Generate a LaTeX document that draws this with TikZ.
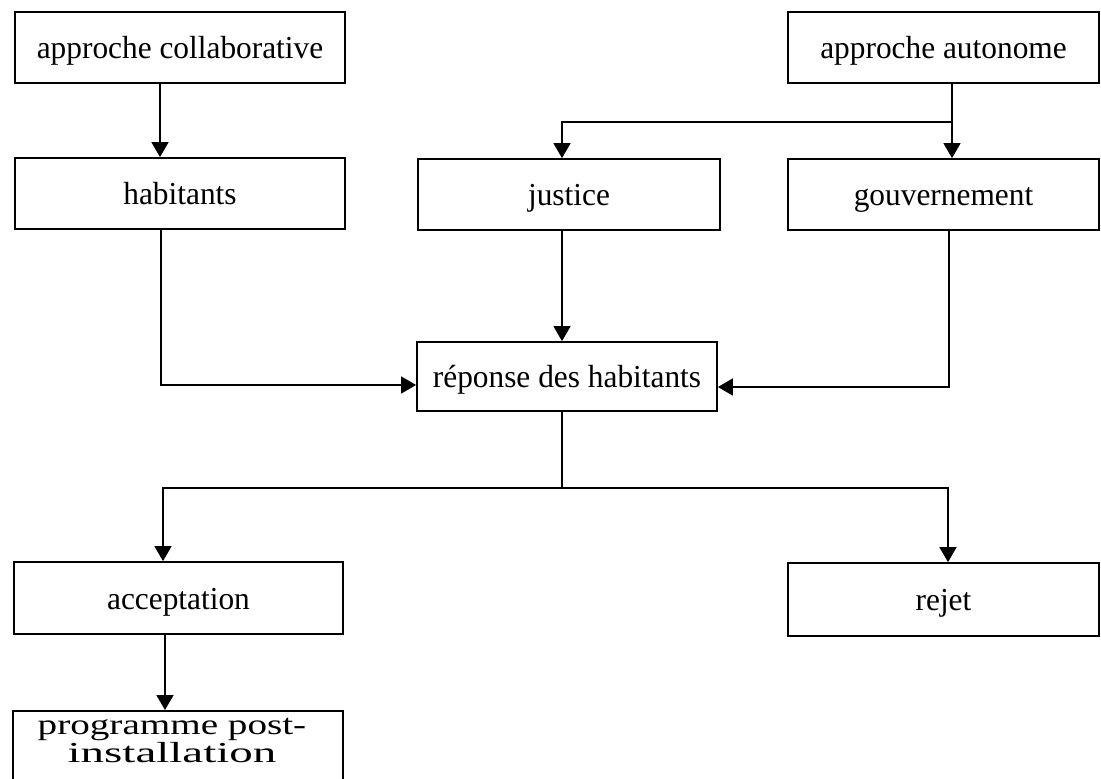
\documentclass[tikz,border=0pt]{standalone}
\usepackage{fontspec}
\setmainfont{Liberation Serif}
\newfontfamily\bxfont[FakeStretch=0.98]{Liberation Serif}
\newfontfamily\pgfontx[FakeStretch=1.35]{Liberation Serif}
\usetikzlibrary{arrows.meta}
\tikzset{
  box/.style={draw, line width=1.8pt, inner sep=0pt, fill=white,
    font=\bxfont\fontsize{32}{38}\selectfont, text height=25pt, text depth=3pt},
  arr/.style={line width=1.6pt, -{Triangle[length=15pt,width=17pt]}},
  ln/.style={line width=1.6pt},
  progtxt/.style={font={\pgfontx\fontsize{29}{28}\selectfont\lineskiplimit=-60pt\lineskip=0pt}, align=center, inner sep=0pt}
}
\begin{document}
\begin{tikzpicture}[x=1pt,y=-1pt]
\fill[white] (0,0) rectangle (1101,779);
\useasboundingbox (0,0) rectangle (1101,779);
\clip (0,0) rectangle (1101,779);
% boxes
\node[box, minimum width=330pt, minimum height=71pt] (collab) at (180,47.5) {approche collaborative};
\node[box, minimum width=311pt, minimum height=71pt] (auto) at (943.5,47.5) {approche autonome};
\node[box, minimum width=330pt, minimum height=71pt] (hab) at (180,193.5) {habitants};
\node[box, minimum width=302pt, minimum height=71pt] (just) at (569,194.5) {justice};
\node[box, minimum width=311pt, minimum height=71pt] (gouv) at (943.5,194.5) {gouvernement};
\node[box, minimum width=300pt, minimum height=69pt] (rep) at (567,376.5) {réponse des habitants};
\node[box, minimum width=329pt, minimum height=72pt] (acc) at (178.5,598) {acceptation};
\node[box, minimum width=311pt, minimum height=73pt] (rej) at (943.5,599.5) {rejet};
\node[box, minimum width=330pt, minimum height=100pt, anchor=north] (prog) at (178,710) {};
\node[progtxt, anchor=base] (progt) at (172,762) {programme post-\\\scalebox{1.2}[1]{installation}};
% helper coordinates
\coordinate (xa) at (160,0);
\coordinate (xb) at (952,0);
\coordinate (yb) at (0,122);
\coordinate (xj) at (562,0);
\coordinate (xh) at (161,0);
\coordinate (yl) at (0,385);
\coordinate (xg) at (949,0);
\coordinate (yr) at (0,387);
\coordinate (yd) at (0,488);
\coordinate (xacc) at (163,0);
\coordinate (xrej) at (948,0);
\coordinate (xp) at (165,0);
% connectors
\draw[arr] (collab.south -| xa) -- (hab.north -| xa);
\draw[arr] (auto.south -| xb) -- (gouv.north -| xb);
\draw[arr] (yb -| xb) -- (yb -| xj) -- (just.north -| xj);
\draw[arr] (just.south -| xj) -- (rep.north -| xj);
\draw[arr] (hab.south -| xh) -- (yl -| xh) -- (yl -| rep.west);
\draw[arr] (gouv.south -| xg) -- (yr -| xg) -- (yr -| rep.east);
\draw[ln] (rep.south -| xj) -- (yd -| xj);
\draw[arr] (yd -| xj) -- (yd -| xacc) -- (acc.north -| xacc);
\draw[arr] (yd -| xj) -- (yd -| xrej) -- (rej.north -| xrej);
\draw[arr] (acc.south -| xp) -- (prog.north -| xp);
\end{tikzpicture}
\end{document}
